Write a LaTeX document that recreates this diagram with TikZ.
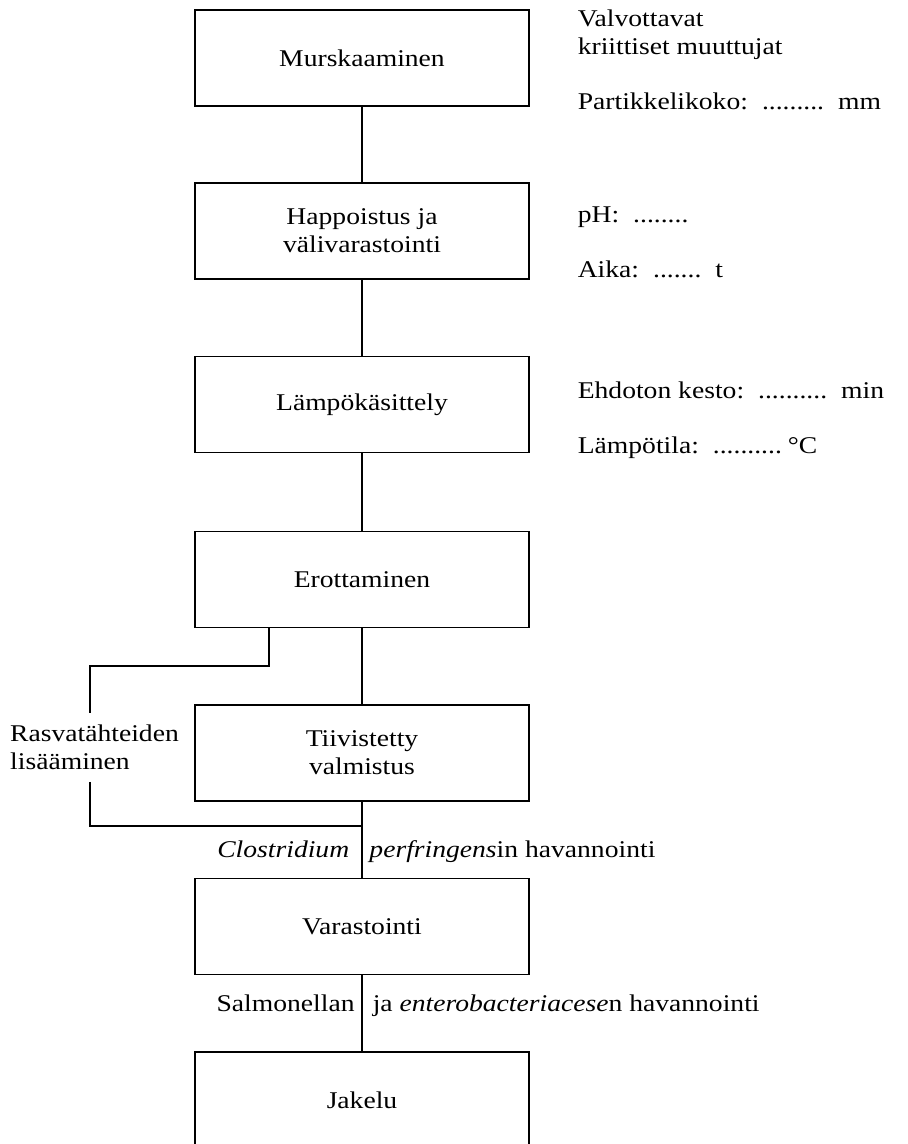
\documentclass[tikz,border=0pt]{standalone}
\usepackage{fontspec}
\setmainfont{Liberation Serif}[FakeStretch=1.15]
\usepackage{tikz}

\begin{document}
\begin{tikzpicture}[x=0.5pt,y=-0.5pt,line width=0.8pt,
  font=\fontsize{12pt}{14pt}\selectfont,
  vaihe/.style={shape=rectangle,draw=black,minimum width=167pt,minimum height=48pt,inner sep=0pt,align=center},
  muuttuja/.style={anchor=base west,inner sep=0pt}]
\useasboundingbox (0,0) rectangle (907,1144);
\node[vaihe] (1) at (362,58) {Murskaaminen};
\node[vaihe] (2) at (362,231) {Happoistus ja\\välivarastointi};
\node[vaihe] (3) at (362,404.5) {Lämpökäsittely};
\node[vaihe] (4) at (362,579.5) {Erottaminen};
\node[vaihe] (5) at (362,753) {Tiivistetty\\valmistus};
\node[vaihe] (6) at (362,926.5) {Varastointi};
\node[vaihe] (7) at (362,1100) {Jakelu};
\node[align=left,inner xsep=0pt,inner ysep=5.5pt] (8) at (94.5,747.5) {Rasvatähteiden\\lisääminen};
\node[muuttuja] (m1) at (577,27) {Valvottavat};
\node[muuttuja] (m2) at (577,55) {kriittiset muuttujat};
\node[muuttuja] (m3) at (577,110) {Partikkelikoko:\hspace{7pt}.........\hspace{7pt}mm};
\node[muuttuja] (m4) at (577,223) {pH:\hspace{7pt}........};
\node[muuttuja] (m5) at (577,278) {Aika:\hspace{7pt}.......\hspace{7pt}t};
\node[muuttuja] (m6) at (577,398) {Ehdoton kesto:\hspace{7pt}..........\hspace{7pt}min};
\node[muuttuja] (m7) at (577,453) {Lämpötila:\hspace{7pt}..........\hspace{3pt}°C};
\coordinate (9) at (269,666);
\coordinate (10) at (90,666);
\coordinate (11) at (362,826);
\path (1) edge (2);
\path (2) edge (3);
\path (3) edge (4);
\path (4) edge (5);
\path (5) edge node[pos=0.737,anchor=base east,inner xsep=6pt] {\textit{Clostridium}}
               node[pos=0.737,anchor=base west] {\textit{perfringens}in havannointi} (6);
\path (6) edge node[pos=0.48,anchor=base east] {Salmonellan}
               node[pos=0.48,anchor=base west,inner xsep=5pt] {ja \textit{enterobacteriacese}n havannointi} (7);
\draw (4.south -| 9) -- (9) -- (10) -- (8.north -| 10);
\draw (8.south -| 10) |- (11);
\end{tikzpicture}
\end{document}
